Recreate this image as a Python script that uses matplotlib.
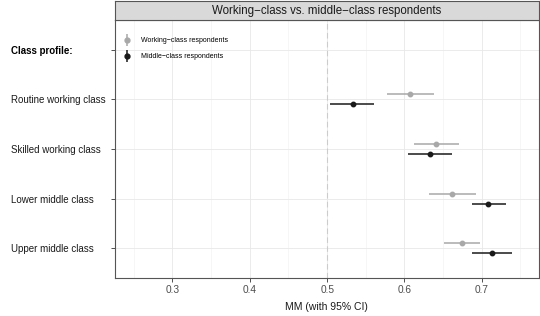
import matplotlib.pyplot as plt
from matplotlib.lines import Line2D
import numpy as np

plt.rcParams['font.family'] = ['Liberation Sans', 'DejaVu Sans']

# categories (top to bottom)
profiles = ["Class profile:", "Routine working class", "Skilled working class",
            "Lower middle class", "Upper middle class"]

# marginal means with 95% CI, one value per class profile (first level is the header)
working_mm = [0.607, 0.641, 0.662, 0.674]
working_lo = [0.577, 0.612, 0.632, 0.651]
working_hi = [0.638, 0.670, 0.693, 0.698]

middle_mm = [0.533, 0.633, 0.708, 0.713]
middle_lo = [0.504, 0.604, 0.687, 0.687]
middle_hi = [0.561, 0.661, 0.731, 0.739]

series = ["Working\u2212class respondents", "Middle\u2212class respondents"]
colors = ["#a8a8a8", "#1a1a1a"]

W, H = 540, 316
fig = plt.figure(figsize=(W / 100, H / 100), dpi=100)

# panel
left, right = 114.5 / W, 539 / W
top, bottom = 1 - 20 / H, 1 - 278 / H
ax = fig.add_axes([left, bottom, right - left, top - bottom])

ypos = np.arange(1, len(profiles))
groups = [(working_mm, working_lo, working_hi, -0.1),
          (middle_mm, middle_lo, middle_hi, 0.1)]
for (mm, lo, hi, off), col in zip(groups, colors):
    mm = np.array(mm)
    lo = np.array(lo)
    hi = np.array(hi)
    y = ypos + off
    ax.hlines(y, lo, hi, color=col, lw=1.1, zorder=3)
    ax.plot(mm, y, 'o', color=col, ms=3.2, zorder=4)

ax.axvline(0.5, color="#cccccc", lw=0.8, ls=(0, (5, 3)), zorder=1)

ax.set_xlim(0.225, 0.774)
ax.set_ylim(len(profiles) - 1 + 0.6, -0.6)
ax.set_xticks([0.3, 0.4, 0.5, 0.6, 0.7])
ax.set_xticklabels(["0.3", "0.4", "0.5", "0.6", "0.7"])
ax.set_xticks(np.arange(0.25, 0.80, 0.1), minor=True)
ax.set_yticks(range(len(profiles)))
ax.set_yticklabels(profiles)

ax.grid(which='major', color="#e8e8e8", lw=0.6, zorder=0)
ax.grid(which='minor', axis='x', color="#f0f0f0", lw=0.4, zorder=0)
ax.set_axisbelow(True)

for s in ax.spines.values():
    s.set_color("#555555")
    s.set_linewidth(0.8)

ax.tick_params(axis='both', which='major', length=2.75, width=0.6, color="#333333",
               labelsize=7.3, labelcolor="#4d4d4d")
ax.tick_params(axis='x', pad=2.5)
ax.tick_params(axis='y', pad=72, labelsize=7.0)
ax.tick_params(which='minor', length=0)
for lab in ax.get_yticklabels():
    lab.set_horizontalalignment('left')
    lab.set_color("#1a1a1a")
ax.get_yticklabels()[0].set_fontweight('bold')
ax.get_yticklabels()[0].set_color("black")

ax.set_xlabel("MM (with 95% CI)", fontsize=7.5, color="#1a1a1a", labelpad=5)

# strip on top
sax = fig.add_axes([left, top, right - left, 1 - top - 0.5 / H])
sax.set_facecolor("#d9d9d9")
sax.set_xticks([])
sax.set_yticks([])
for s in sax.spines.values():
    s.set_color("#555555")
    s.set_linewidth(0.8)
sax.text(0.5, 0.45, "Working\u2212class vs. middle\u2212class respondents",
         ha='center', va='center', fontsize=8.3, color="#1a1a1a", transform=sax.transAxes)

# legend
handles = []
for col in colors:
    bar = Line2D([], [], color=col, marker='|', ms=9, mew=1.1, ls='none')
    dot = Line2D([], [], color=col, marker='o', ms=3.5, ls='none')
    handles.append((bar, dot))
ax.legend(handles, series, loc='upper left', bbox_to_anchor=(0.008, 0.952),
          frameon=False, fontsize=5, handlelength=1.2, handletextpad=1.4,
          labelspacing=1.3, borderaxespad=0.3)

fig.savefig("out.png", dpi=100)
